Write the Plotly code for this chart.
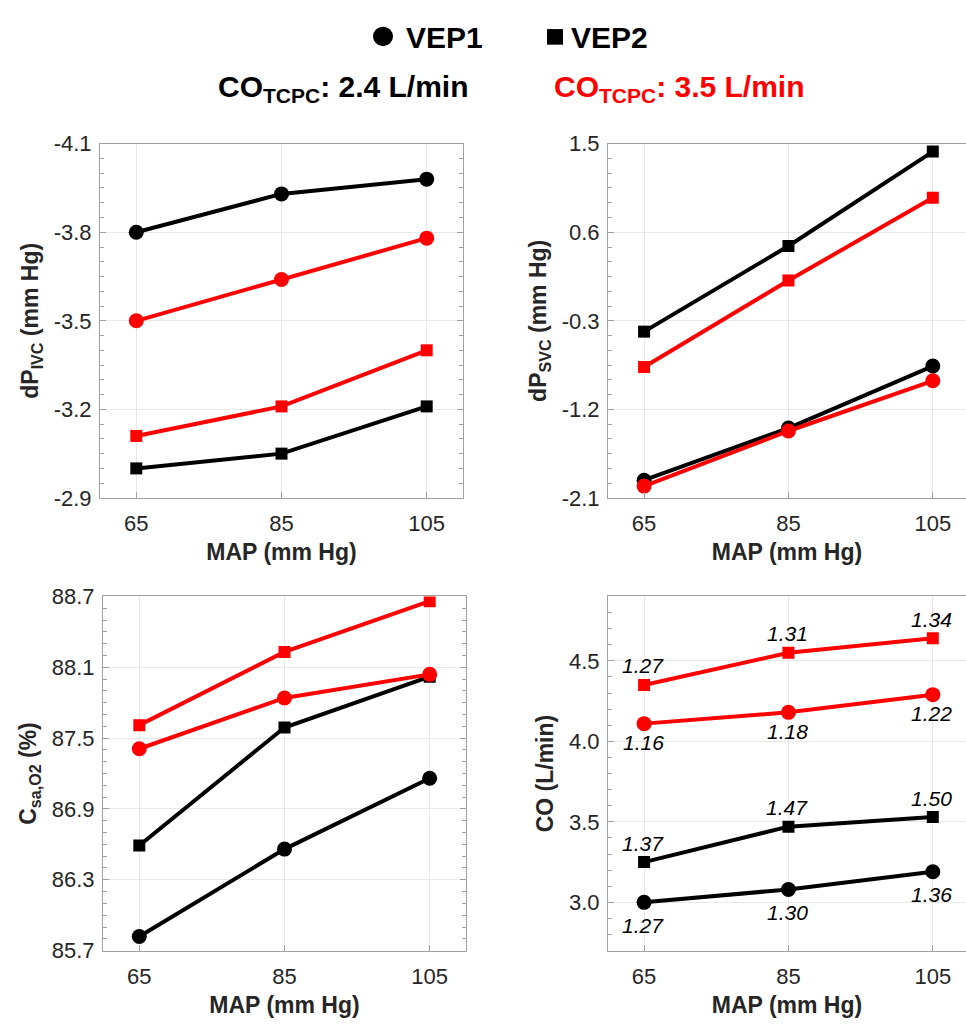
import plotly.graph_objects as go

# ---------------- data ----------------
MAP = [65, 85, 105]
map_ticks = [65, 85, 105]

# dP_IVC (mm Hg)
ivc_vep1_24 = [-3.80, -3.93, -3.98]
ivc_vep1_35 = [-3.50, -3.64, -3.78]
ivc_vep2_24 = [-3.00, -3.05, -3.21]
ivc_vep2_35 = [-3.11, -3.21, -3.40]
ivc_ticks = [-4.1, -3.8, -3.5, -3.2, -2.9]

# dP_SVC (mm Hg)
svc_vep1_24 = [-1.92, -1.39, -0.76]
svc_vep1_35 = [-1.98, -1.42, -0.91]
svc_vep2_24 = [-0.41, 0.46, 1.42]
svc_vep2_35 = [-0.77, 0.11, 0.95]
svc_ticks = [-2.1, -1.2, -0.3, 0.6, 1.5]

# C_sa,O2 (%)
csa_vep1_24 = [85.82, 86.56, 87.16]
csa_vep1_35 = [87.41, 87.84, 88.04]
csa_vep2_24 = [86.59, 87.59, 88.02]
csa_vep2_35 = [87.61, 88.23, 88.66]
csa_ticks = [85.7, 86.3, 86.9, 87.5, 88.1, 88.7]

# CO (L/min)
co_vep1_24 = [3.00, 3.08, 3.19]
co_vep1_35 = [4.11, 4.18, 4.29]
co_vep2_24 = [3.25, 3.47, 3.53]
co_vep2_35 = [4.35, 4.55, 4.64]
co_ticks = [3.0, 3.5, 4.0, 4.5]

# CO value labels
lab_vep1_24 = ["1.27", "1.30", "1.36"]
lab_vep1_35 = ["1.16", "1.18", "1.22"]
lab_vep2_24 = ["1.37", "1.47", "1.50"]
lab_vep2_35 = ["1.27", "1.31", "1.34"]

# ---------------- layout helpers ----------------
W, H = 966, 1029
FONT = "Liberation Sans, Arial, sans-serif"
TXT = "#262626"
AX = "#a0a0a0"
GRID = "#e8e8e8"
BLACK = "#000000"
RED = "#ff0000"


def px_x(a, b):
    return [a / W, min(b / W, 1.0)]


def px_y(top, bottom):
    return [1 - bottom / H, 1 - top / H]


fig = go.Figure()

panels = [
    ("x", "y", {
        "v1_24": ivc_vep1_24, "v1_35": ivc_vep1_35,
        "v2_24": ivc_vep2_24, "v2_35": ivc_vep2_35}),
    ("x2", "y2", {
        "v1_24": svc_vep1_24, "v1_35": svc_vep1_35,
        "v2_24": svc_vep2_24, "v2_35": svc_vep2_35}),
    ("x3", "y3", {
        "v1_24": csa_vep1_24, "v1_35": csa_vep1_35,
        "v2_24": csa_vep2_24, "v2_35": csa_vep2_35}),
    ("x4", "y4", {
        "v1_24": co_vep1_24, "v1_35": co_vep1_35,
        "v2_24": co_vep2_24, "v2_35": co_vep2_35}),
]

style = {
    "v1_24": (BLACK, "circle", 15),
    "v2_24": (BLACK, "square", 12),
    "v1_35": (RED, "circle", 15),
    "v2_35": (RED, "square", 12),
}
order = ["v1_24", "v2_24", "v1_35", "v2_35"]

for xa, ya, series in panels:
    for key in order:
        col, sym, size = style[key]
        fig.add_trace(go.Scatter(
            x=MAP, y=series[key], xaxis=xa, yaxis=ya,
            mode="lines+markers",
            line=dict(color=col, width=4),
            marker=dict(color=col, symbol=sym, size=size),
            showlegend=False, hoverinfo="skip"))

# CO value annotations
annotations = []
lab_sets = [
    (co_vep1_24, lab_vep1_24, 23),
    (co_vep1_35, lab_vep1_35, 19),
    (co_vep2_24, lab_vep2_24, -19),
    (co_vep2_35, lab_vep2_35, -19),
]
for vals, labs, off in lab_sets:
    for xv, yv, t in zip(MAP, vals, labs):
        annotations.append(dict(
            x=xv, y=yv, xref="x4", yref="y4", text=t, showarrow=False,
            yshift=-off, xshift=-1,
            font=dict(family=FONT, size=21, color="#000000", style="italic"),
            xanchor="center", yanchor="middle"))

# Legend text
annotations += [
    dict(x=404 / W, y=1 - 26 / H, xref="paper", yref="paper", text="<b>VEP1</b>",
         showarrow=False, xanchor="left", yanchor="middle",
         font=dict(family=FONT, size=30, color="#000000")),
    dict(x=569 / W, y=1 - 26 / H, xref="paper", yref="paper", text="<b>VEP2</b>",
         showarrow=False, xanchor="left", yanchor="middle",
         font=dict(family=FONT, size=30, color="#000000")),
    dict(x=216 / W, y=1 - 78 / H, xref="paper", yref="paper",
         text="<b>CO<sub>TCPC</sub>: 2.4 L/min</b>",
         showarrow=False, xanchor="left", yanchor="middle",
         font=dict(family=FONT, size=30, color="#000000")),
    dict(x=552 / W, y=1 - 78 / H, xref="paper", yref="paper",
         text="<b>CO<sub>TCPC</sub>: 3.5 L/min</b>",
         showarrow=False, xanchor="left", yanchor="middle",
         font=dict(family=FONT, size=30, color=RED)),
]

shapes = [
    dict(type="circle", xref="paper", yref="paper",
         x0=373 / W, x1=393 / W, y0=1 - 35 / H, y1=1 - 15 / H,
         fillcolor="#000000", line=dict(width=0)),
    dict(type="rect", xref="paper", yref="paper",
         x0=547 / W, x1=563 / W, y0=1 - 33.5 / H, y1=1 - 17.5 / H,
         fillcolor="#000000", line=dict(width=0)),
]


def xax(domain, rng, anchor):
    return dict(domain=domain, range=rng, anchor=anchor,
                tickmode="array", tickvals=map_ticks,
                ticktext=[str(v) for v in map_ticks],
                showgrid=True, gridcolor=GRID, gridwidth=1,
                showline=True, linecolor=AX, linewidth=1, mirror=True,
                ticks="inside", ticklen=6, tickcolor=AX,
                tickfont=dict(family=FONT, size=22, color=TXT),
                ticklabelstandoff=6,
                title=dict(text="<b>MAP (mm Hg)</b>", standoff=8,
                           font=dict(family=FONT, size=23, color=TXT)),
                zeroline=False, fixedrange=True)


def yax(domain, rng, anchor, ticks, minor_dtick, title, mirror):
    return dict(domain=domain, range=rng, anchor=anchor,
                tickmode="array", tickvals=ticks,
                ticktext=[f"{v:.1f}" for v in ticks],
                showgrid=True, gridcolor=GRID, gridwidth=1,
                showline=True, linecolor=AX, linewidth=1, mirror=mirror,
                ticks="inside", ticklen=6, tickcolor=AX,
                minor=dict(tickmode="linear", tick0=ticks[0], dtick=minor_dtick,
                           ticks="inside", ticklen=4, tickcolor=AX, showgrid=False),
                tickfont=dict(family=FONT, size=22, color=TXT),
                ticklabelstandoff=3,
                title=dict(text=title, standoff=8,
                           font=dict(family=FONT, size=23, color=TXT)),
                zeroline=False, fixedrange=True)


fig.update_layout(
    width=W, height=H,
    margin=dict(l=0, r=0, t=0, b=0),
    paper_bgcolor="white", plot_bgcolor="white",
    showlegend=False,
    font=dict(family=FONT, color=TXT),
    xaxis=xax(px_x(100, 463), [60, 110], "y"),
    yaxis=yax(px_y(135, 498), [-2.9, -4.1], "x", ivc_ticks, 0.05,
              "<b>dP<sub>IVC</sub> (mm Hg)</b>", "ticks"),
    xaxis2=xax(px_x(608, 966), [60, 109.6], "y2"),
    yaxis2=yax(px_y(135, 498), [-2.1, 1.5], "x2", svc_ticks, 0.15,
               "<b>dP<sub>SVC</sub> (mm Hg)</b>", False),
    xaxis3=xax(px_x(103, 466), [60, 110], "y3"),
    yaxis3=yax(px_y(599, 962), [85.7, 88.7], "x3", csa_ticks, 0.1,
               "<b>C<sub>sa,O2</sub> (%)</b>", "ticks"),
    xaxis4=xax(px_x(608, 966), [60, 109.6], "y4"),
    yaxis4=yax(px_y(599, 962), [2.7, 4.9], "x4", co_ticks, 0.1,
               "<b>CO (L/min)</b>", False),
    annotations=annotations,
    shapes=shapes,
)

fig.write_html("out.html")
